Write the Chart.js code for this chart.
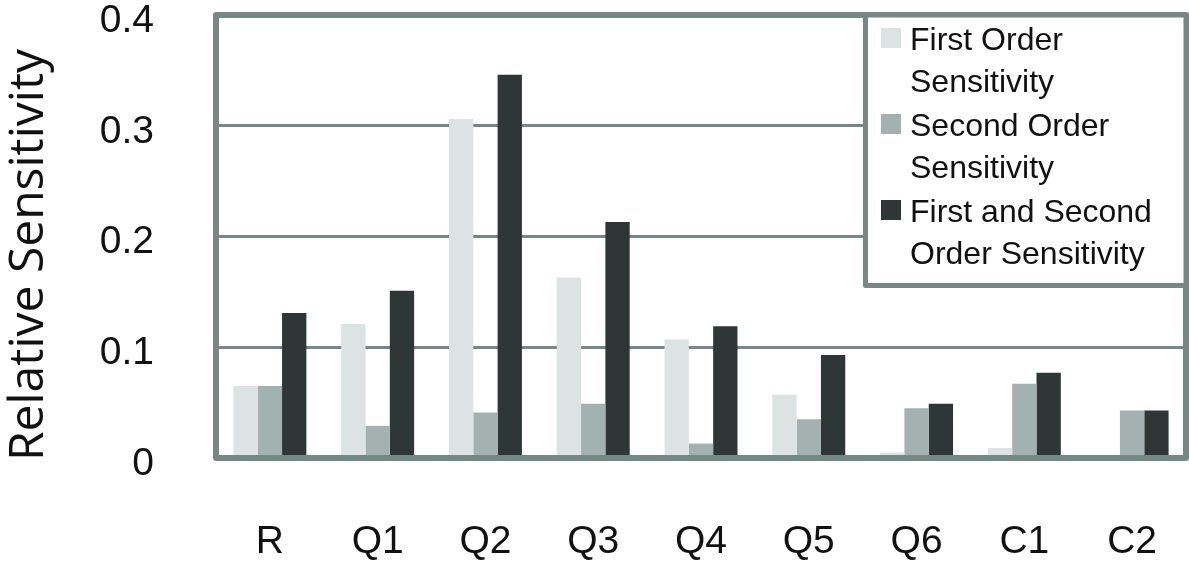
<!DOCTYPE html>
<html>
<head>
<meta charset="utf-8">
<script src="https://cdn.jsdelivr.net/npm/chart.js@4"></script>
<style>
  html, body { margin: 0; padding: 0; background: #ffffff; }
  #wrap { width: 1189px; height: 570px; position: relative; }
</style>
</head>
<body>
<div id="wrap"><canvas id="c" width="1189" height="570"></canvas></div>
<script>
// ---- data ----
const categories = ['R', 'Q1', 'Q2', 'Q3', 'Q4', 'Q5', 'Q6', 'C1', 'C2'];
const firstOrder = [0.065, 0.121, 0.306, 0.163, 0.107, 0.057, 0.005, 0.009, 0.0];
const secondOrder = [0.065, 0.029, 0.041, 0.049, 0.013, 0.035, 0.045, 0.067, 0.043];
const firstAndSecond = [0.131, 0.151, 0.346, 0.213, 0.119, 0.093, 0.049, 0.077, 0.043];
const seriesLabels = ['First Order Sensitivity', 'Second Order Sensitivity', 'First and Second Order Sensitivity'];
const legendLines = [['First Order', 'Sensitivity'], ['Second Order', 'Sensitivity'], ['First and Second', 'Order Sensitivity']];
const yTickLabels = ['0', '0.1', '0.2', '0.3', '0.4'];
const yTitle = 'Relative Sensitivity';

// ---- styles ----
const colors = ['#dce3e2', '#a3b2b0', '#2e3636'];
const frameColor = '#778784';

const framePlugin = {
  id: 'frameAndLegend',
  afterDatasetsDraw(chart) {
    const ctx = chart.ctx;
    const a = chart.chartArea;
    ctx.save();
    // plot frame
    ctx.strokeStyle = frameColor;
    ctx.lineWidth = 6;
    ctx.lineJoin = 'round';
    ctx.strokeRect(a.left, a.top, a.right - a.left, a.bottom - a.top);

    // legend box
    const lx = 865.5, ly = a.top, lw = a.right - lx, lh = 285.5 - a.top;
    ctx.fillStyle = '#ffffff';
    ctx.fillRect(lx, ly, lw, lh);
    ctx.lineWidth = 5;
    ctx.strokeRect(lx, ly, lw, lh);

    ctx.font = '32px "Liberation Sans", Arial, sans-serif';
    ctx.textBaseline = 'middle';
    ctx.textAlign = 'left';
    const pitchLine = 42.4;
    chart.data.datasets.forEach((ds, i) => {
      const y0 = 41 + i * 86;
      ctx.fillStyle = ds.backgroundColor;
      ctx.fillRect(881, y0 - 13, 20, 20);
      ctx.fillStyle = '#111111';
      legendLines[i].forEach((t, j) => {
        ctx.fillText(t, 910, y0 + j * pitchLine);
      });
    });

    // y axis title
    ctx.translate(43, 255);
    ctx.rotate(-Math.PI / 2);
    ctx.font = '48px "Open Sans", sans-serif';
    ctx.textAlign = 'center';
    ctx.textBaseline = 'alphabetic';
    ctx.fillStyle = '#111111';
    ctx.fillText(yTitle, 0, 0);
    ctx.restore();
  }
};

new Chart(document.getElementById('c'), {
  type: 'bar',
  data: {
    labels: categories,
    datasets: [
      { label: seriesLabels[0], data: firstOrder, backgroundColor: colors[0] },
      { label: seriesLabels[1], data: secondOrder, backgroundColor: colors[1] },
      { label: seriesLabels[2], data: firstAndSecond, backgroundColor: colors[2] }
    ]
  },
  options: {
    responsive: false,
    animation: false,
    layout: { padding: { left: 0, right: 3, top: 15, bottom: 0 } },
    datasets: { bar: { categoryPercentage: 0.677, barPercentage: 1.0, borderWidth: 0 } },
    plugins: { legend: { display: false }, tooltip: { enabled: false }, title: { display: false } },
    scales: {
      x: {
        grid: { display: false, drawTicks: false },
        border: { display: false },
        ticks: { color: '#111111', font: { family: '"Liberation Sans", Arial, sans-serif', size: 39 }, padding: 61, maxRotation: 0, autoSkip: false },
        afterFit(scale) { scale.height = 112; scale.paddingLeft = 0; scale.paddingRight = 0; }
      },
      y: {
        min: 0, max: 0.4,
        grid: { color: frameColor, lineWidth: 3, drawTicks: false },
        border: { display: false },
        ticks: {
          stepSize: 0.1,
          color: '#111111',
          font: { family: '"Liberation Sans", Arial, sans-serif', size: 39 },
          padding: 62,
          labelOffset: 6,
          callback: (v, i) => yTickLabels[i]
        },
        afterFit(scale) { scale.width = 216; scale.paddingTop = 0; scale.paddingBottom = 0; }
      }
    }
  },
  plugins: [framePlugin]
});
</script>
</body>
</html>
